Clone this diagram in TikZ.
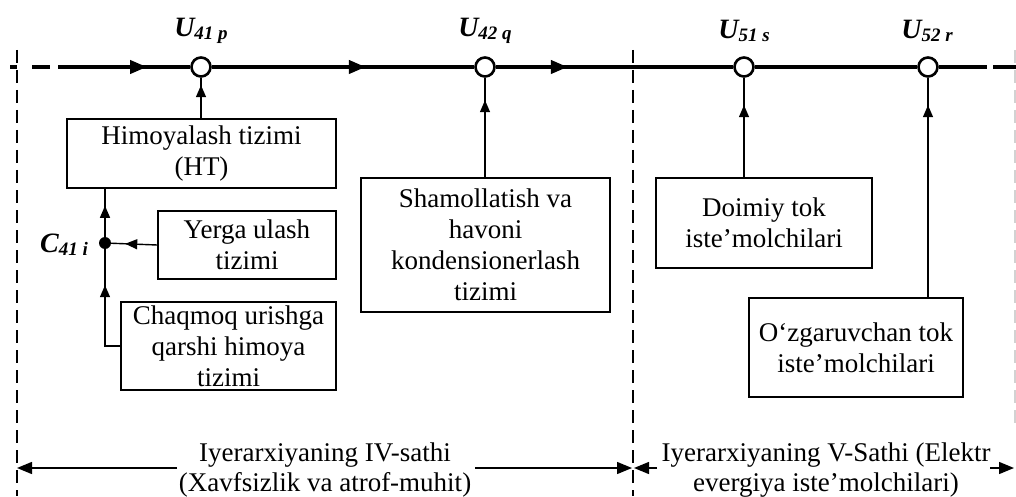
\documentclass[tikz,border=0pt]{standalone}
\usepackage{fontspec}
\setmainfont{Liberation Serif}
\usetikzlibrary{arrows.meta,decorations.markings}
\newcommand{\ulab}[2]{{\fontsize{28}{28}\selectfont\bfseries\itshape #1}\raisebox{-3pt}{\fontsize{19}{19}\selectfont\bfseries\itshape #2}}
\begin{document}
\begin{tikzpicture}[x=1pt,y=-1pt,
  box/.style={draw,line width=1.6pt,align=center,inner sep=0pt,font=\fontsize{27}{31}\selectfont},
  txt/.style={align=center,inner sep=0pt,font=\fontsize{27}{30}\selectfont},
  bus/.style={line width=4pt},
  busnode/.style={circle,draw,line width=2.6pt,fill=white,minimum size=19pt,inner sep=0pt},
  dotnode/.style={circle,fill=black,minimum size=12pt,inner sep=0pt},
  conn/.style={line width=1.4pt},
  bnd/.style={line width=1.2pt,dash pattern=on 13pt off 7pt},
  lbl/.style={inner sep=0pt},
  busarrow/.style={postaction={decorate},decoration={markings,mark=at position #1 with {\arrow{Triangle[length=17pt,width=13pt]}}}},
  carrow/.style={postaction={decorate},decoration={markings,mark=at position #1 with {\arrow{Triangle[length=12pt,width=10pt]}}}},
  dimarrow/.style={-{Triangle[length=15pt,width=12pt]}}
]
\useasboundingbox (0,0) rectangle (1016,497);

% boundary lines
\coordinate (b1t) at (17,50);  \coordinate (b1b) at (17,496);
\coordinate (b2t) at (633,50); \coordinate (b2b) at (633,496);
\coordinate (b3t) at (1015,50); \coordinate (b3b) at (1015,430);
\draw[bnd] (b1t) -- (b1b);
\draw[bnd] (b2t) -- (b2b);
\draw[bnd,gray!35] (b3t) -- (b3b);

% bus
\coordinate (L0) at (10,67); \coordinate (L1) at (58,67);
\coordinate (R0) at (987,67); \coordinate (R0b) at (993,67); \coordinate (R1) at (1016,67);
\node[busnode] (n1) at (201,67) {};
\node[busnode] (n2) at (485,67) {};
\node[busnode] (n3) at (744,67) {};
\node[busnode] (n4) at (928,67) {};
\draw[bus,dash pattern=on 7pt off 15pt on 18pt off 8pt] (L0) -- (L1);
\draw[bus,busarrow=89pt] (L1) -- (n1);
\draw[bus,busarrow=154pt] (n1) -- (n2);
\draw[bus,busarrow=72pt] (n2) -- (n3);
\draw[bus] (n3) -- (n4) -- (R0);
\draw[bus] (R0b) -- (R1);

% labels
\node[lbl] (u1) at (201,31) {\ulab{U}{41 p}};
\node[lbl] (u2) at (485,31) {\ulab{U}{42 q}};
\node[lbl] (u3) at (744,31) {\ulab{U}{51 s}};
\node[lbl] (u4) at (927,31) {\ulab{U}{52 r}};

% boxes
\node[box,minimum width=269pt,minimum height=69pt] (ht) at (201.5,153.5) {Himoyalash tizimi\\(HT)};
\node[box,minimum width=178pt,minimum height=68pt] (yg) at (247,245) {Yerga ulash\\tizimi};
\node[box,minimum width=215pt,minimum height=88pt] (ch) at (228.5,346) {Chaqmoq urishga\\qarshi himoya\\tizimi};
\node[box,minimum width=249pt,minimum height=134pt] (sh) at (485.5,245) {Shamollatish va\\havoni\\kondensionerlash\\tizimi};
\node[box,minimum width=216pt,minimum height=90pt] (dc) at (764,223) {Doimiy tok\\iste’molchilari};
\node[box,minimum width=214pt,minimum height=99pt] (ac) at (856,347.5) {O‘zgaruvchan tok\\iste’molchilari};

% C41i junction
\node[dotnode] (c) at (105,243) {};
\node[lbl,anchor=east] (cl) at (88,245) {\ulab{C}{41 i}};

% connectors
\draw[conn,carrow=33pt] (n1 |- ht.north) -- (n1);
\draw[conn,carrow=77pt] (n2 |- sh.north) -- (n2);
\draw[conn,carrow=72pt] (n3 |- dc.north) -- (n3);
\draw[conn,carrow=192pt] (n4 |- ac.north) -- (n4);
\draw[conn,carrow=76pt] (ch.west) -| (c);
\draw[conn,carrow=32pt] (yg.west) -- (c);
\draw[conn,carrow=31pt] (c) -- (c |- ht.south);

% bottom dimension
\node[txt] (t1) at (325,470) {Iyerarxiyaning IV-sathi\\(Xavfsizlik va atrof-muhit)};
\node[txt] (t2) at (826,470) {Iyerarxiyaning V-Sathi (Elektr\\evergiya iste’molchilari)};
\coordinate (d1) at (17,468); \coordinate (d1s) at (177,468);
\coordinate (d2) at (632,468); \coordinate (d2s) at (475,468);
\coordinate (d3) at (634,468); \coordinate (d3s) at (657,468);
\coordinate (d4) at (1014,468); \coordinate (d4s) at (990,468);
\draw[conn,dimarrow] (d1s) -- (d1);
\draw[conn,dimarrow] (d2s) -- (d2);
\draw[conn,dimarrow] (d3s) -- (d3);
\draw[conn,dimarrow] (d4s) -- (d4);
\end{tikzpicture}
\end{document}
